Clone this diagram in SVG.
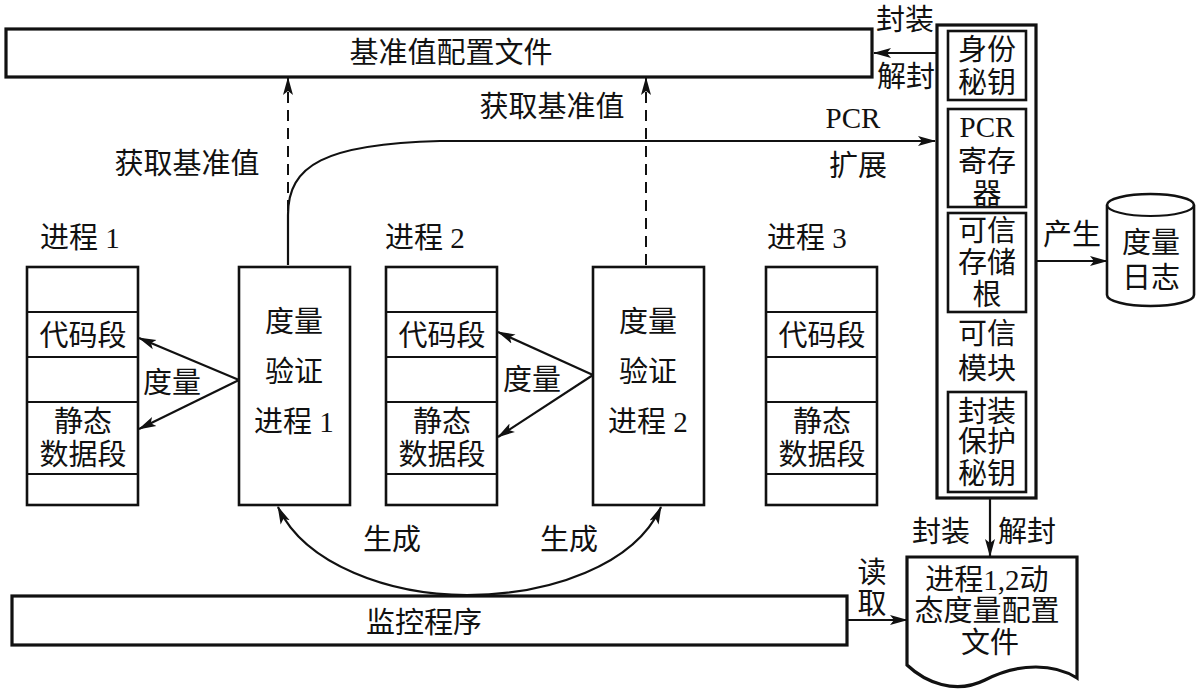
<svg xmlns="http://www.w3.org/2000/svg" width="1200" height="689" viewBox="0 0 1200 689">
<style>
  text { font-family: "Liberation Serif", "Noto Sans CJK SC", serif; font-size: 29px; fill: #111; dominant-baseline: central; }
  .c { text-anchor: middle; }
  .box { fill: #fff; stroke: #111; stroke-width: 2.6; }
  .thick { fill: #fff; stroke: #111; stroke-width: 3.2; }
  .ln { fill: none; stroke: #111; stroke-width: 2.2; }
  .dash { fill: none; stroke: #111; stroke-width: 2; stroke-dasharray: 11 7; }
  .arr { marker-end: url(#ah); }
</style>
<defs>
  <marker id="ah" markerUnits="userSpaceOnUse" markerWidth="18" markerHeight="12" refX="17" refY="6" orient="auto">
    <path d="M0,1 L18,6 L0,11 L4,6 Z" fill="#111"/>
  </marker>
</defs>
<rect width="1200" height="689" fill="#fff"/>

<g id="baseline-file">
  <rect class="thick" x="6" y="29" width="866" height="48"/>
  <text class="c" x="451" y="53">基准值配置文件</text>
</g>

<g id="process1">
  <text x="40" y="238">进程 1</text>
  <rect class="box" x="27" y="267" width="111" height="238"/>
  <line class="ln" x1="27" y1="312" x2="138" y2="312"/>
  <line class="ln" x1="27" y1="357" x2="138" y2="357"/>
  <line class="ln" x1="27" y1="402" x2="138" y2="402"/>
  <line class="ln" x1="27" y1="474" x2="138" y2="474"/>
  <text class="c" x="83" y="336">代码段</text>
  <text class="c" x="83" y="422">静态</text>
  <text class="c" x="83" y="455">数据段</text>
</g>

<g id="verify1">
  <rect class="box" x="239" y="267" width="111" height="238"/>
  <text class="c" x="294" y="322">度量</text>
  <text class="c" x="294" y="372">验证</text>
  <text class="c" x="294" y="422">进程 1</text>
</g>

<g id="process2">
  <text x="385" y="238">进程 2</text>
  <rect class="box" x="386" y="267" width="111" height="238"/>
  <line class="ln" x1="386" y1="312" x2="497" y2="312"/>
  <line class="ln" x1="386" y1="357" x2="497" y2="357"/>
  <line class="ln" x1="386" y1="402" x2="497" y2="402"/>
  <line class="ln" x1="386" y1="474" x2="497" y2="474"/>
  <text class="c" x="442" y="336">代码段</text>
  <text class="c" x="442" y="422">静态</text>
  <text class="c" x="442" y="455">数据段</text>
</g>

<g id="verify2">
  <rect class="box" x="593" y="267" width="111" height="238"/>
  <text class="c" x="648" y="322">度量</text>
  <text class="c" x="648" y="372">验证</text>
  <text class="c" x="648" y="422">进程 2</text>
</g>

<g id="process3">
  <text x="767" y="238">进程 3</text>
  <rect class="box" x="766" y="267" width="111" height="238"/>
  <line class="ln" x1="766" y1="312" x2="877" y2="312"/>
  <line class="ln" x1="766" y1="357" x2="877" y2="357"/>
  <line class="ln" x1="766" y1="402" x2="877" y2="402"/>
  <line class="ln" x1="766" y1="474" x2="877" y2="474"/>
  <text class="c" x="822" y="336">代码段</text>
  <text class="c" x="822" y="422">静态</text>
  <text class="c" x="822" y="455">数据段</text>
</g>

<g id="trusted-module">
  <rect class="thick" x="937" y="25" width="99" height="473"/>
  <rect class="box" x="948" y="31" width="78" height="69"/>
  <text class="c" x="987" y="50">身份</text>
  <text class="c" x="987" y="83">秘钥</text>
  <rect class="box" x="948" y="109" width="78" height="98"/>
  <text class="c" x="987" y="127">PCR</text>
  <text class="c" x="987" y="162">寄存</text>
  <text class="c" x="987" y="194">器</text>
  <rect class="box" x="948" y="213" width="78" height="99"/>
  <text class="c" x="987" y="231">可信</text>
  <text class="c" x="987" y="263">存储</text>
  <text class="c" x="987" y="295">根</text>
  <text class="c" x="987" y="334">可信</text>
  <text class="c" x="987" y="369">模块</text>
  <rect class="box" x="948" y="392" width="78" height="100"/>
  <text class="c" x="987" y="412">封装</text>
  <text class="c" x="987" y="442">保护</text>
  <text class="c" x="987" y="474">秘钥</text>
</g>

<g id="measure-log">
  <path class="box" d="M1107,205 V295 A43.5,11 0 0 0 1194,295 V205 A43.5,11 0 0 0 1107,205 Z"/>
  <path class="ln" d="M1107,205 A43.5,11 0 0 0 1194,205" stroke-width="2.6"/>
  <text class="c" x="1151" y="243">度量</text>
  <text class="c" x="1151" y="278">日志</text>
</g>

<g id="dynamic-config">
  <path class="thick" d="M907,557 H1077 V678 C1055,664 1020,662 985,680 C955,695 925,682 907,665 Z"/>
  <text class="c" x="987" y="580">进程1,2动</text>
  <text class="c" x="987" y="611">态度量配置</text>
  <text class="c" x="990" y="643">文件</text>
</g>

<g id="monitor">
  <rect class="thick" x="12" y="596" width="835" height="49"/>
  <text class="c" x="424" y="623">监控程序</text>
</g>

<g id="connectors">
  <line class="dash arr" x1="288" y1="265" x2="288" y2="78"/>
  <line class="dash arr" x1="646" y1="265" x2="646" y2="78"/>
  <path class="ln arr" d="M288,265 V215 C288,165 325,144 440,141 L935,141"/>
  <line class="ln arr" x1="937" y1="53" x2="874" y2="53"/>
  <line class="ln arr" x1="239" y1="380" x2="139" y2="338"/>
  <line class="ln arr" x1="239" y1="380" x2="139" y2="429"/>
  <line class="ln arr" x1="593" y1="375" x2="498" y2="332"/>
  <line class="ln arr" x1="593" y1="375" x2="498" y2="437"/>
  <line class="ln arr" x1="1036" y1="261" x2="1107" y2="261"/>
  <line class="ln arr" x1="990" y1="498" x2="990" y2="556"/>
  <line class="ln arr" x1="847" y1="620" x2="907" y2="620"/>
  <path class="ln arr" d="M467,595 C390,595 305,565 278,507"/>
  <path class="ln arr" d="M467,595 C550,595 635,565 661,507"/>
</g>

<g id="labels">
  <text class="c" x="187" y="164">获取基准值</text>
  <text class="c" x="552" y="107">获取基准值</text>
  <text class="c" x="853" y="118">PCR</text>
  <text class="c" x="858" y="166">扩展</text>
  <text class="c" x="905" y="20">封装</text>
  <text class="c" x="906" y="77">解封</text>
  <text class="c" x="172" y="383">度量</text>
  <text class="c" x="532" y="380">度量</text>
  <text class="c" x="1072" y="235">产生</text>
  <text class="c" x="941" y="532">封装</text>
  <text class="c" x="1027" y="532">解封</text>
  <text class="c" x="872" y="573">读</text>
  <text class="c" x="872" y="604">取</text>
  <text class="c" x="392" y="540">生成</text>
  <text class="c" x="569" y="540">生成</text>
</g>
</svg>
